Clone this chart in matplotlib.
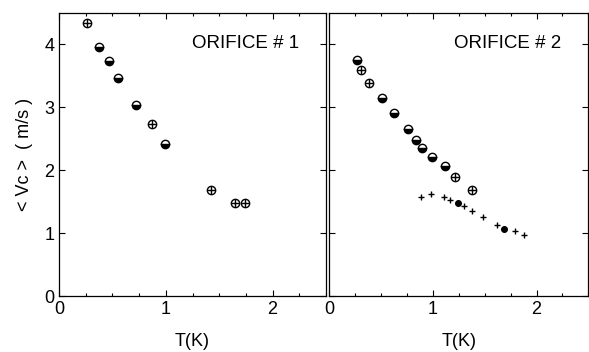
import matplotlib
matplotlib.use("Agg")
import matplotlib.pyplot as plt
from matplotlib.ticker import MultipleLocator

plt.rcParams['font.family'] = ['Liberation Sans', 'DejaVu Sans']

# orifice 1 (circles with plus / half filled circles)
t1_plus = [0.26, 0.87, 1.42, 1.65, 1.74]
v1_plus = [4.34, 2.73, 1.68, 1.47, 1.48]
t1_half = [0.375, 0.47, 0.55, 0.72, 0.99]
v1_half = [3.96, 3.74, 3.47, 3.04, 2.41]

# orifice 2
t2_plus = [0.31, 0.39, 1.21, 1.38]
v2_plus = [3.59, 3.39, 1.89, 1.68]
t2_half = [0.27, 0.51, 0.63, 0.76, 0.84, 0.90, 0.99, 1.12]
v2_half = [3.75, 3.15, 2.91, 2.66, 2.48, 2.35, 2.21, 2.06]
t2_cross = [0.885, 0.98, 1.11, 1.17, 1.24, 1.30, 1.375, 1.48, 1.615, 1.685, 1.79, 1.88]
v2_cross = [1.58, 1.62, 1.57, 1.52, 1.47, 1.43, 1.35, 1.25, 1.13, 1.07, 1.04, 0.97]
t2_dot = [1.24, 1.685]
v2_dot = [1.47, 1.07]

fig = plt.figure(figsize=(5.89, 3.52), dpi=100)
ax1 = fig.add_axes([0.1002, 0.159, 0.4533, 0.805])
ax2 = fig.add_axes([0.5586, 0.159, 0.4404, 0.805])


def circ_plus(ax, t, v):
    ax.plot(t, v, 'o', ms=6, mfc='white', mec='black', mew=1.0)
    ax.plot(t, v, '+', ms=6, color='black', mew=1.0)


def circ_half(ax, t, v):
    ax.plot(t, v, 'o', ms=6, mfc='black', mfcalt='white', fillstyle='bottom',
            mec='black', mew=1.0)


for ax in (ax1, ax2):
    ax.set_xlim(0, 2.5)
    ax.set_ylim(0, 4.5)
    ax.xaxis.set_major_locator(MultipleLocator(1))
    ax.xaxis.set_minor_locator(MultipleLocator(0.25))
    ax.yaxis.set_major_locator(MultipleLocator(1))
    ax.tick_params(which='both', direction='in', top=True, right=True, labelsize=13)
    ax.tick_params(which='major', length=4, width=0.8)
    ax.tick_params(which='minor', length=2, width=0.8)
    ax.set_xlabel('T(K)', fontsize=13, labelpad=11)
    for s in ax.spines.values():
        s.set_linewidth(0.9)

circ_plus(ax1, t1_plus, v1_plus)
circ_half(ax1, t1_half, v1_half)
ax1.text(0.90, 0.89, 'ORIFICE # 1', transform=ax1.transAxes, ha='right', va='center', fontsize=13.5)
ax1.set_ylabel('< Vc >  ( m/s )', fontsize=13, labelpad=8)

circ_plus(ax2, t2_plus, v2_plus)
circ_half(ax2, t2_half, v2_half)
ax2.plot(t2_cross, v2_cross, '+', ms=5, color='black', mew=1.0)
ax2.plot(t2_dot, v2_dot, 'o', ms=4, color='black')
ax2.text(0.896, 0.89, 'ORIFICE # 2', transform=ax2.transAxes, ha='right', va='center', fontsize=13.5)
ax2.tick_params(labelleft=False)

fig.savefig('out.png', dpi=100)
